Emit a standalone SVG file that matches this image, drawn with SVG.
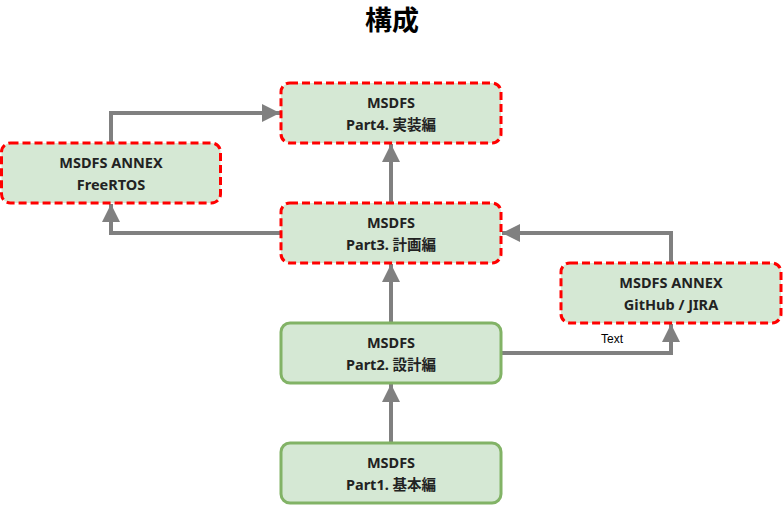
<svg xmlns="http://www.w3.org/2000/svg" width="783" height="505" viewBox="0 0 783 505">
  <style>
    .node rect { fill: #d5e8d4; }
    .solid rect { stroke: #82b366; stroke-width: 3; }
    .dash rect { stroke: #ff0000; stroke-width: 3; stroke-dasharray: 8 4; }
    .node text { font-family: "Noto Sans", "Open Sans", "Noto Sans CJK JP", sans-serif; font-size: 14.5px; font-weight: bold; fill: #222222; text-anchor: middle; }
    .edge { fill: none; stroke: #808080; stroke-width: 4; }
    .title { font-family: "Noto Sans CJK JP", "Noto Sans", sans-serif; font-size: 27px; font-weight: bold; fill: #000000; text-anchor: middle; }
    .label { font-family: "Liberation Sans", Arial, sans-serif; font-size: 12px; fill: #000000; text-anchor: middle; }
  </style>
  <defs>
    <marker id="arrow" markerUnits="userSpaceOnUse" markerWidth="20" markerHeight="20" refX="18" refY="9" orient="auto">
      <path d="M0,0 L18,9 L0,18 Z" fill="#808080"/>
    </marker>
  </defs>
  <rect width="783" height="505" fill="#ffffff"/>
  <text class="title" x="392" y="30">構成</text>

  <g id="connectors">
    <path class="edge" d="M391,443 V384" marker-end="url(#arrow)"/>
    <path class="edge" d="M391,323 V264" marker-end="url(#arrow)"/>
    <path class="edge" d="M391,203 V144" marker-end="url(#arrow)"/>
    <path class="edge" d="M281,233 H111 V204" marker-end="url(#arrow)"/>
    <path class="edge" d="M111,143 V113 H280" marker-end="url(#arrow)"/>
    <path class="edge" d="M501,353 H671 V324" marker-end="url(#arrow)"/>
    <path class="edge" d="M671,263 V233 H502" marker-end="url(#arrow)"/>
    <text class="label" x="612" y="343">Text</text>
  </g>

  <g id="part4" class="node dash">
    <rect x="281" y="83" width="220" height="60" rx="9" ry="9"/>
    <text x="391" y="108">MSDFS</text>
    <text x="391" y="130">Part4. 実装編</text>
  </g>
  <g id="part3" class="node dash">
    <rect x="281" y="203" width="220" height="60" rx="9" ry="9"/>
    <text x="391" y="228">MSDFS</text>
    <text x="391" y="250">Part3. 計画編</text>
  </g>
  <g id="part2" class="node solid">
    <rect x="281" y="323" width="220" height="60" rx="9" ry="9"/>
    <text x="391" y="348">MSDFS</text>
    <text x="391" y="370">Part2. 設計編</text>
  </g>
  <g id="part1" class="node solid">
    <rect x="281" y="443" width="220" height="60" rx="9" ry="9"/>
    <text x="391" y="468">MSDFS</text>
    <text x="391" y="490">Part1. 基本編</text>
  </g>
  <g id="freertos" class="node dash">
    <rect x="1.5" y="143" width="219" height="60" rx="9" ry="9"/>
    <text x="111" y="168">MSDFS ANNEX</text>
    <text x="111" y="190">FreeRTOS</text>
  </g>
  <g id="github" class="node dash">
    <rect x="561" y="263" width="220" height="60" rx="9" ry="9"/>
    <text x="671" y="288">MSDFS ANNEX</text>
    <text x="671" y="310">GitHub / JIRA</text>
  </g>
</svg>
